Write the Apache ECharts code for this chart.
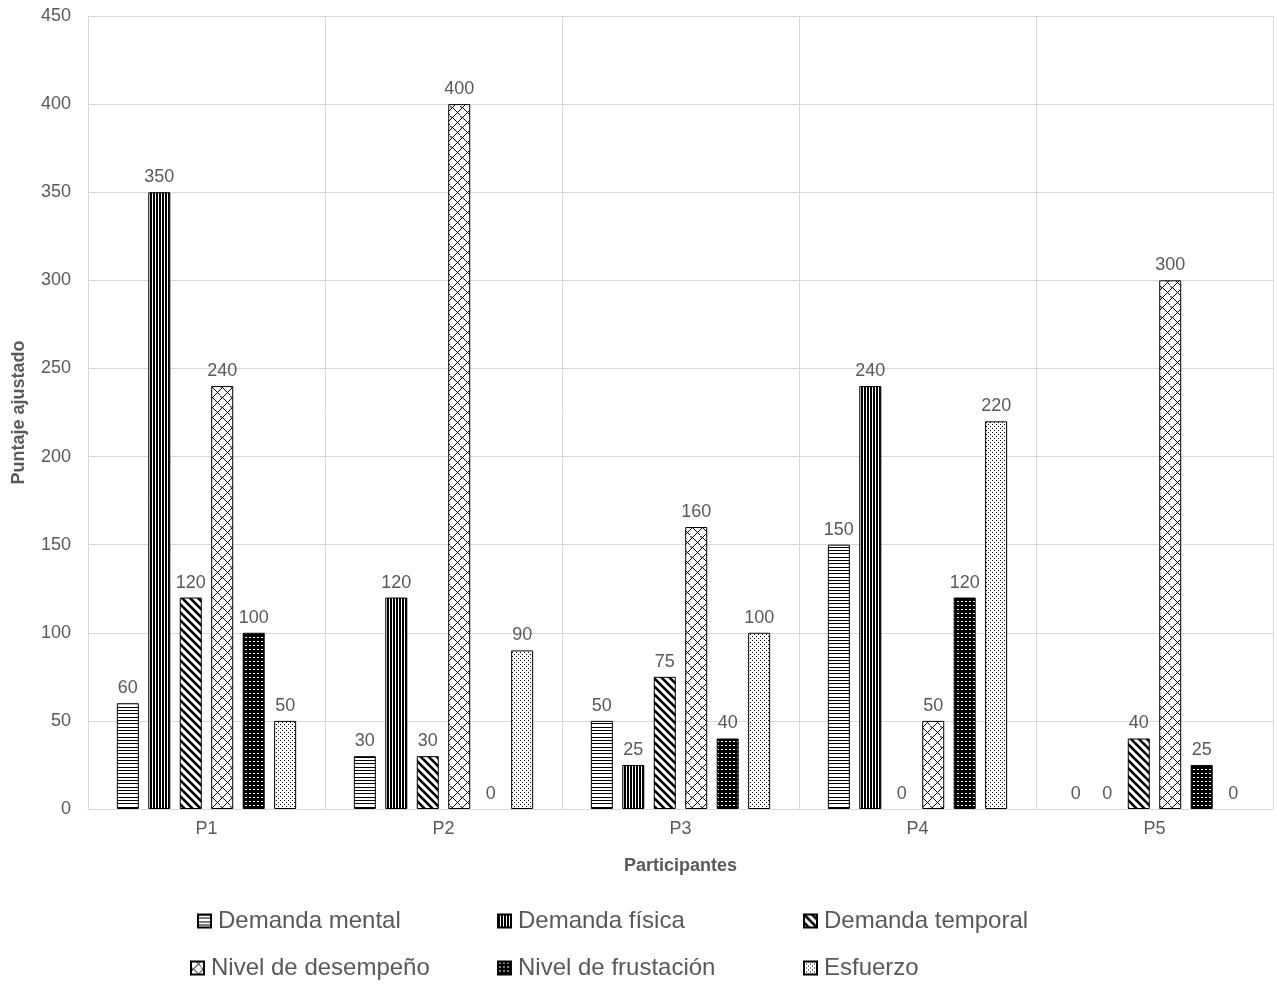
<!DOCTYPE html>
<html>
<head>
<meta charset="utf-8">
<script src="https://cdn.jsdelivr.net/npm/echarts@6/dist/echarts.min.js"></script>
<style>
html,body{margin:0;padding:0;background:#fff;}
#chart{width:1278px;height:986px;}
</style>
</head>
<body>
<div id="chart"></div>
<script>
// Categories and series values
const participants = ['P1', 'P2', 'P3', 'P4', 'P5'];
const seriesNames = ['Demanda mental', 'Demanda física', 'Demanda temporal',
  'Nivel de desempeño', 'Nivel de frustación', 'Esfuerzo'];
const demandaMental = [60, 30, 50, 150, 0];
const demandaFisica = [350, 120, 25, 240, 0];
const demandaTemporal = [120, 30, 75, 0, 40];
const nivelDesempeno = [240, 400, 160, 50, 300];
const nivelFrustacion = [100, 0, 40, 120, 25];
const esfuerzo = [50, 90, 100, 220, 0];
const yTicks = [0, 50, 100, 150, 200, 250, 300, 350, 400, 450];

const TEXT = '#595959';
const GRID = '#d9d9d9';
const FONT = '"Liberation Sans", Arial, sans-serif';

// Canvas-based fill patterns
function tile(w, h, draw) {
  const c = document.createElement('canvas');
  c.width = w; c.height = h;
  const ctx = c.getContext('2d');
  draw(ctx, w, h);
  return { image: c, repeat: 'repeat' };
}
const patHorizontal = tile(4, 10, (ctx) => {
  ctx.fillStyle = '#fff'; ctx.fillRect(0, 0, 4, 10);
  ctx.fillStyle = '#000';
  ctx.fillRect(0, 0, 4, 1); ctx.fillRect(0, 3, 4, 1); ctx.fillRect(0, 7, 4, 1);
});
const patVertical = tile(3, 4, (ctx) => {
  ctx.fillStyle = '#fff'; ctx.fillRect(0, 0, 3, 4);
  ctx.fillStyle = '#000'; ctx.fillRect(0, 0, 2, 4);
});
const patDiagonal = tile(8, 8, (ctx) => {
  ctx.fillStyle = '#fff'; ctx.fillRect(0, 0, 8, 8);
  ctx.strokeStyle = '#000'; ctx.lineWidth = 2.6;
  for (let k = -8; k <= 8; k += 8) {
    ctx.beginPath(); ctx.moveTo(k - 2, -2); ctx.lineTo(k + 10, 10); ctx.stroke();
  }
});
const patShingle = tile(10, 10, (ctx) => {
  ctx.fillStyle = '#fff'; ctx.fillRect(0, 0, 10, 10);
  ctx.strokeStyle = '#000'; ctx.lineWidth = 1;
  ctx.beginPath();
  ctx.moveTo(0, 10); ctx.lineTo(10, 0);
  ctx.moveTo(-1, 1); ctx.lineTo(1, -1);
  ctx.moveTo(2.5, 7.5); ctx.lineTo(6, 11);
  ctx.moveTo(7.5, 2.5); ctx.lineTo(4, -1);
  ctx.moveTo(7.5, 2.5); ctx.lineTo(11, 6);
  ctx.moveTo(-1, 6); ctx.lineTo(2.5, 7.5);
  ctx.stroke();
});
const patDarkDots = tile(4, 4, (ctx) => {
  ctx.fillStyle = '#000'; ctx.fillRect(0, 0, 4, 4);
  ctx.fillStyle = '#fff'; ctx.fillRect(1, 1, 2, 1);
});
const patLightDots = tile(4, 4, (ctx) => {
  ctx.fillStyle = '#fff'; ctx.fillRect(0, 0, 4, 4);
  ctx.fillStyle = '#000'; ctx.fillRect(0, 0, 1, 1); ctx.fillRect(2, 2, 1, 1);
});

const values = [demandaMental, demandaFisica, demandaTemporal, nivelDesempeno, nivelFrustacion, esfuerzo];
const fills = [patHorizontal, patVertical, patDiagonal, patShingle, patDarkDots, patLightDots];

const series = seriesNames.map((name, i) => ({
  name: name,
  type: 'bar',
  // zero-height bars keep their value label but draw no outline
  data: values[i].map(v => v === 0 ? { value: v, itemStyle: { borderWidth: 0 } } : v),
  barWidth: 22,
  barGap: '43%',
  itemStyle: { color: fills[i], borderColor: '#000', borderWidth: 1 },
  label: {
    show: true, position: 'top', distance: 6,
    color: TEXT, fontSize: 18, fontFamily: FONT
  },
  emphasis: { disabled: true },
  animation: false
}));

// Legend laid out as a two-row grid of single-item legends
const legendSlots = [
  [197, 909], [497, 909], [803, 909],
  [190, 956], [497, 956], [803, 956]
];
const legends = seriesNames.map((name, i) => ({
  data: [name],
  left: legendSlots[i][0],
  top: legendSlots[i][1],
  padding: 0,
  icon: 'rect',
  itemWidth: 13,
  itemHeight: 13,
  itemGap: 0,
  textStyle: { color: TEXT, fontSize: 24, fontFamily: FONT, padding: [0, 0, 0, 2] },
  selectedMode: false
}));

const chart = echarts.init(document.getElementById('chart'), null, { renderer: 'canvas' });
chart.setOption({
  backgroundColor: '#fff',
  animation: false,
  grid: { left: 88, right: 5, top: 16, bottom: 177 },
  legend: legends,
  xAxis: {
    type: 'category',
    data: participants,
    name: 'Participantes',
    nameLocation: 'middle',
    nameGap: 48,
    nameTextStyle: { color: TEXT, fontSize: 18, fontWeight: 'bold', fontFamily: FONT },
    axisLine: { show: true, lineStyle: { color: GRID, width: 1 } },
    axisTick: { show: false },
    axisLabel: { color: TEXT, fontSize: 18, fontFamily: FONT, margin: 11 },
    splitLine: { show: true, lineStyle: { color: GRID, width: 1 } }
  },
  yAxis: {
    type: 'value',
    min: yTicks[0],
    max: yTicks[yTicks.length - 1],
    interval: yTicks[1] - yTicks[0],
    name: 'Puntaje ajustado',
    nameLocation: 'middle',
    nameGap: 60,
    nameRotate: 90,
    nameTextStyle: { color: TEXT, fontSize: 18, fontWeight: 'bold', fontFamily: FONT },
    axisLine: { show: false },
    axisTick: { show: false },
    axisLabel: { color: TEXT, fontSize: 18, fontFamily: FONT, margin: 17 },
    splitLine: { show: true, lineStyle: { color: GRID, width: 1 } }
  },
  series: series
});
</script>
</body>
</html>
